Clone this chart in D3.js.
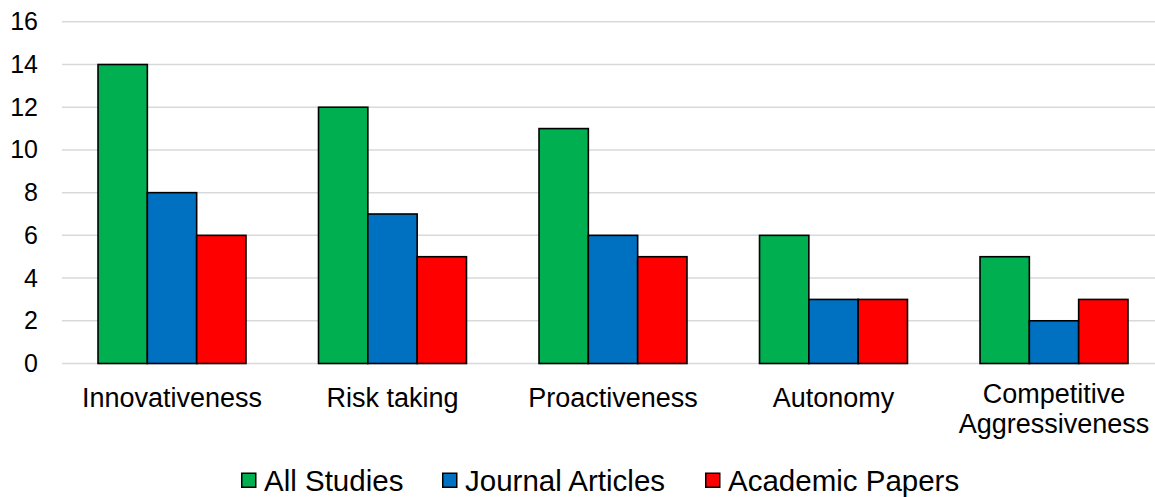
<!DOCTYPE html>
<html>
<head>
<meta charset="utf-8">
<script src="https://cdn.jsdelivr.net/npm/d3@7"></script>
<style>
  html, body { margin: 0; padding: 0; background: #fff; }
  svg { display: block; font-family: "Liberation Sans", Arial, sans-serif; }
</style>
</head>
<body>
<svg id="chart" width="1155" height="497"></svg>
<script>
// Dimensions of entrepreneurial orientation, counted across the reviewed literature
const categories = ["Innovativeness", "Risk taking", "Proactiveness", "Autonomy", "Competitive Aggressiveness"];
const categoryLines = [["Innovativeness"], ["Risk taking"], ["Proactiveness"], ["Autonomy"], ["Competitive", "Aggressiveness"]];
const seriesNames = ["All Studies", "Journal Articles", "Academic Papers"];
const allStudies = [14, 12, 11, 6, 5];
const journalArticles = [8, 7, 6, 3, 2];
const academicPapers = [6, 5, 5, 3, 3];
const seriesColors = ["#00b050", "#0070c0", "#ff0000"];
const yTicks = [0, 2, 4, 6, 8, 10, 12, 14, 16];

const seriesValues = [allStudies, journalArticles, academicPapers];

const svg = d3.select("#chart");
const W = 1155;

const x = d3.scaleBand()
  .domain(categories)
  .range([61.75, 1164.25])
  .paddingInner(0.329)
  .paddingOuter(0.1645);

const xSub = d3.scaleBand()
  .domain(seriesNames)
  .range([0, x.bandwidth()]);

const y = d3.scaleLinear().domain([0, 16]).range([363.5, 21.8]);

// horizontal gridlines
svg.append("g")
  .selectAll("line")
  .data(yTicks)
  .join("line")
  .attr("x1", 62)
  .attr("x2", W)
  .attr("y1", d => y(d))
  .attr("y2", d => y(d))
  .attr("stroke", "#d9d9d9")
  .attr("stroke-width", 1.5);

// y axis labels
const yAxis = d3.axisLeft(y).tickValues(yTicks).tickSize(0).tickPadding(0);
const yg = svg.append("g").attr("transform", "translate(38,0)").call(yAxis);
yg.select(".domain").remove();
yg.selectAll("text")
  .attr("font-size", 25)
  .attr("fill", "#000")
  .attr("font-family", "Liberation Sans, Arial, sans-serif");

// bars
const groups = svg.append("g")
  .selectAll("g")
  .data(categories)
  .join("g")
  .attr("transform", d => `translate(${x(d)},0)`);

groups.selectAll("rect")
  .data((c, i) => seriesNames.map((s, j) => ({ s, j, v: seriesValues[j][i] })))
  .join("rect")
  .attr("x", d => xSub(d.s))
  .attr("width", xSub.bandwidth())
  .attr("y", d => y(d.v))
  .attr("height", d => y(0) - y(d.v))
  .attr("fill", d => seriesColors[d.j])
  .attr("stroke", "#000")
  .attr("stroke-width", 1.6);

// category labels
const labels = svg.append("g")
  .selectAll("text")
  .data(categories)
  .join("text")
  .attr("text-anchor", "middle")
  .attr("font-size", 27)
  .attr("fill", "#000")
  .attr("x", d => x(d) + x.bandwidth() / 2)
  .attr("y", (d, i) => categoryLines[i].length > 1 ? 403.3 : 407);

labels.each(function (d, i) {
  const t = d3.select(this);
  categoryLines[i].forEach((line, k) => {
    t.append("tspan")
      .attr("x", x(d) + x.bandwidth() / 2)
      .attr("dy", k === 0 ? 0 : 30)
      .text(line);
  });
});

// legend
const legendX = [241, 442, 705];
const legend = svg.append("g")
  .selectAll("g")
  .data(seriesNames)
  .join("g")
  .attr("transform", (d, i) => `translate(${legendX[i]},0)`);

legend.append("rect")
  .attr("x", 0.75)
  .attr("y", 473.25)
  .attr("width", 14)
  .attr("height", 14)
  .attr("fill", (d, i) => seriesColors[i])
  .attr("stroke", "#000")
  .attr("stroke-width", 1.5);

legend.append("text")
  .attr("x", 23)
  .attr("y", 490.5)
  .attr("font-size", 29.5)
  .attr("fill", "#000")
  .text(d => d);
</script>
</body>
</html>
